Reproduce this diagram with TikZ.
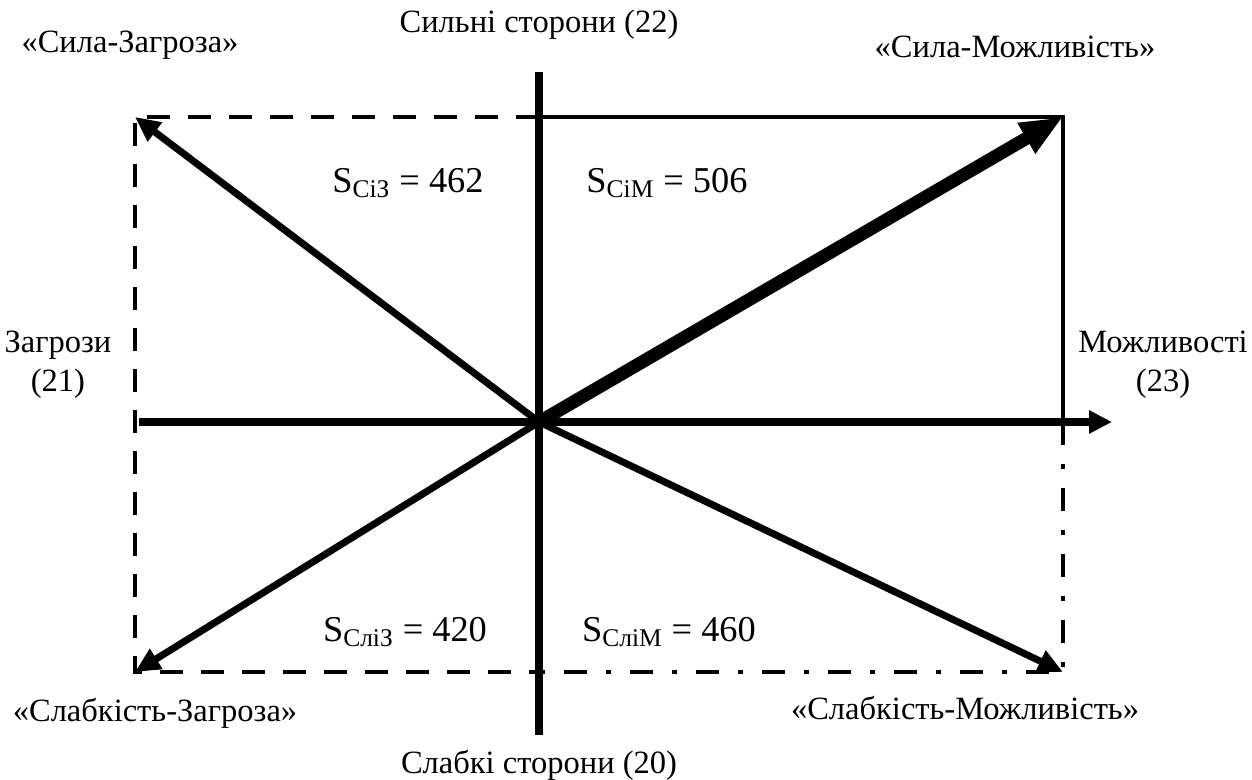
\documentclass[tikz,border=0pt]{standalone}
\usepackage{fontspec}
\setmainfont{Liberation Serif}
\usetikzlibrary{arrows.meta,positioning}

\begin{document}
\begin{tikzpicture}[
    every node/.style={font=\fontsize{18.5}{22}\selectfont, align=center, inner sep=0pt},
    area/.style={font=\fontsize{20.7}{24}\selectfont},
    axis/.style={line width=4.5pt},
    diag/.style={-{Triangle[length=0.5cm, width=0.45cm]}, line width=4pt},
    bold/.style={-{Triangle[length=0.85cm, width=0.65cm]}, line width=7.4pt},
    frame/.style={line width=2.6pt},
    dashframe/.style={frame, dash pattern=on 0.46cm off 0.36cm},
    dotframe/.style={frame, dash pattern=on 0.46cm off 0.38cm on 0.1cm off 0.38cm}
]
\useasboundingbox (-10.78,-7.16) rectangle (14.26,8.44);
\coordinate (O) at (0,0);
\coordinate (tl) at (-8.08,6.10);
\coordinate (tr) at (10.48,6.10);
\coordinate (bl) at (-8.08,-5.00);
\coordinate (br) at (10.48,-5.00);
\coordinate (tm) at (0,6.10);
\coordinate (bm) at (0,-5.00);
\coordinate (rm) at (10.48,0);
\coordinate (north) at (0,7.0);
\coordinate (south) at (0,-6.26);
\coordinate (west) at (-8.0,0);
\coordinate (east) at (11.46,0);

% frame of the quadrants
\draw[dashframe] (tm) -- (tl) -- (bl) -- (bm);
\draw[frame] (tm) -- (tr) -- (rm);
\draw[dotframe] (rm) -- (br) -- (bm);

% axes
\draw[axis] (north) -- (south);
\draw[axis, -{Triangle[length=0.46cm, width=0.44cm]}] (west) -- (east);

% strategy vectors
\draw[diag] (O) -- (tl);
\draw[diag] (O) -- (bl);
\draw[diag] (O) -- (br);
\draw[bold] (O) -- (tr);

% labels
\node (strong) at (0,7.94) {Сильні сторони (22)};
\node (weak) at (0,-6.86) {Слабкі сторони (20)};
\node (threat) at (-9.62,1.14) {Загрози\\(21)};
\node (opport) at (12.48,1.14) {Можливості\\(23)};
\node (sz) at (-8.18,7.54) {«Сила-Загроза»};
\node (sm) at (9.52,7.50) {«Сила-Можливість»};
\node (wz) at (-7.68,-5.82) {«Слабкість-Загроза»};
\node (wm) at (8.52,-5.72) {«Слабкість-Можливість»};
\node[area] (areasz) at (-2.62,4.78) {S\textsubscript{СіЗ} = 462};
\node[area] (areasm) at (2.56,4.78) {S\textsubscript{СіМ} = 506};
\node[area] (areawz) at (-2.68,-4.20) {S\textsubscript{СліЗ} = 420};
\node[area] (areawm) at (2.60,-4.20) {S\textsubscript{СліМ} = 460};
\end{tikzpicture}
\end{document}
